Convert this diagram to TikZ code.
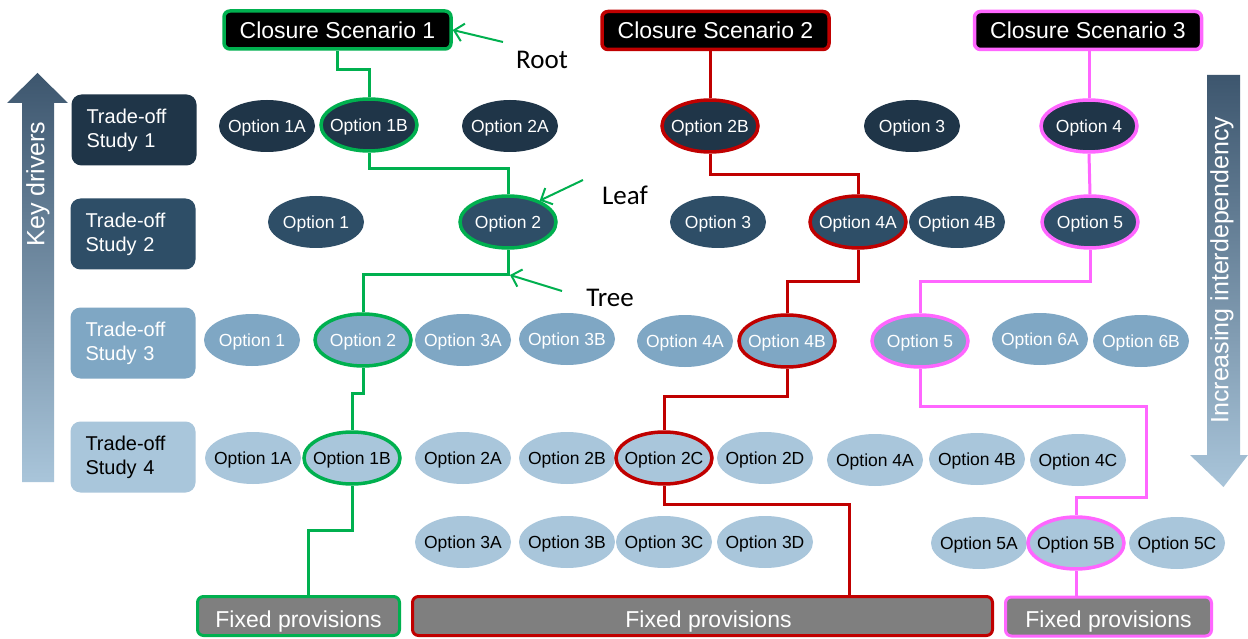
\documentclass[tikz,border=0pt]{standalone}
\usepackage{fontspec}
\setmainfont{Liberation Sans}
\newfontfamily\calibri{Carlito}
\usetikzlibrary{shapes.geometric,arrows.meta}
\definecolor{navyA}{HTML}{1F3548}
\definecolor{navyB}{HTML}{2E4E67}
\definecolor{blueC}{HTML}{7FA7C4}
\definecolor{blueD}{HTML}{A9C6DB}
\definecolor{cgreen}{HTML}{00B04F}
\definecolor{cred}{HTML}{C00000}
\definecolor{cpink}{HTML}{FF66FF}
\definecolor{cgray}{HTML}{7F7F7F}
\definecolor{arrDark}{HTML}{3D566E}
\definecolor{arrLight}{HTML}{A9C5DA}
\begin{document}
\begin{tikzpicture}[x=1pt,y=-1pt,
  opt/.style={ellipse, minimum width=96pt, minimum height=52pt, inner xsep=-10pt, inner ysep=0pt, text depth=0pt, font=\fontsize{17.5}{20}\selectfont},
  oA/.style={opt, fill=navyA, text=white},
  oB/.style={opt, fill=navyB, text=white},
  oC/.style={opt, fill=blueC, text=white},
  oD/.style={opt, fill=blueD, text=black},
  gsel/.style={draw=cgreen, line width=3.5pt},
  rsel/.style={draw=cred, line width=3.5pt},
  psel/.style={draw=cpink, line width=3.5pt},
  study/.style={rounded corners=10pt, minimum width=125pt, minimum height=71pt, text width=95pt, align=left, inner sep=0pt, font=\fontsize{20}{24}\selectfont},
  scen/.style={fill=black, text=white, rounded corners=6pt, line width=3.5pt, minimum width=227pt, minimum height=38pt, inner sep=0pt, font=\fontsize{23}{27}\selectfont},
  fixedbox/.style={fill=cgray, text=white, rounded corners=6pt, line width=3pt, minimum height=39pt, inner sep=0pt, text height=22pt, text depth=0pt, font=\fontsize{23}{27}\selectfont},
  gpath/.style={draw=cgreen, line width=3pt},
  rpath/.style={draw=cred, line width=3pt},
  ppath/.style={draw=cpink, line width=3pt},
  annot/.style={draw=cgreen, line width=2pt, -{Straight Barb[length=9pt,width=18pt]}},
  lab/.style={font=\calibri\fontsize{27}{30}\selectfont, text=black, inner sep=0pt}
]
\useasboundingbox (0,0) rectangle (1248,639);
\fill[white] (0,0) rectangle (1248,639);

% side arrows
\shade[top color=arrDark, bottom color=arrLight]
  (22,482) -- (22,103) -- (7,103) -- (37.5,73) -- (68,103) -- (54,103) -- (54,482) -- cycle;
\node[rotate=90, text=white, font=\fontsize{25}{30}\selectfont] (keyd) at (38,184) {Key drivers};
\shade[top color=arrDark, bottom color=arrLight]
  (1207,75) -- (1240,75) -- (1240,455) -- (1248,455) -- (1223.5,487) -- (1190,455) -- (1207,455) -- cycle;
\node[rotate=90, text=white, font=\fontsize{25}{30}\selectfont] (incr) at (1222,270) {Increasing interdependency};

% study labels
\node[study, fill=navyA, text=white] (s1) at (134,130) {Trade-off\\Study 1};
\node[study, fill=navyB, text=white] (s2) at (133,234) {Trade-off\\Study 2};
\node[study, fill=blueC, text=white] (s3) at (133,343) {Trade-off\\Study 3};
\node[study, fill=blueD, text=black] (s4) at (133,457) {Trade-off\\Study 4};

% scenarios
\node[scen, draw=cgreen] (cs1) at (337.5,30) {Closure Scenario 1};
\node[scen, draw=cred] (cs2) at (715.5,30.5) {Closure Scenario 2};
\node[scen, draw=cpink] (cs3) at (1088,30.5) {Closure Scenario 3};

% row 1
\node[oA] (a1a) at (267,126) {Option 1A};
\node[oA, gsel] (a1b) at (369,125) {Option 1B};
\node[oA] (a2a) at (510,126) {Option 2A};
\node[oA, rsel] (a2b) at (710,126) {Option 2B};
\node[oA] (a3) at (912,126) {Option 3};
\node[oA, psel] (a4) at (1089,126) {Option 4};

% row 2
\node[oB] (b1) at (316,222) {Option 1};
\node[oB, gsel] (b2) at (508,222) {Option 2};
\node[oB] (b3) at (718,222) {Option 3};
\node[oB, rsel] (b4a) at (858,222) {Option 4A};
\node[oB] (b4b) at (957,222) {Option 4B};
\node[oB, psel] (b5) at (1090,222) {Option 5};

% row 3
\node[oC] (c1) at (252,340) {Option 1};
\node[oC, gsel] (c2) at (363,340) {Option 2};
\node[oC] (c3a) at (463,340) {Option 3A};
\node[oC] (c3b) at (567,339) {Option 3B};
\node[oC] (c4a) at (685,341) {Option 4A};
\node[oC, rsel] (c4b) at (787,341) {Option 4B};
\node[oC, psel] (c5) at (920,341) {Option 5};
\node[oC] (c6a) at (1040,339) {Option 6A};
\node[oC] (c6b) at (1141,341) {Option 6B};

% row 4
\node[oD] (d1a) at (253,458) {Option 1A};
\node[oD, gsel] (d1b) at (352,458) {Option 1B};
\node[oD] (d2a) at (463,458) {Option 2A};
\node[oD] (d2b) at (567,458) {Option 2B};
\node[oD, rsel] (d2c) at (664,458) {Option 2C};
\node[oD] (d2d) at (765,458) {Option 2D};
\node[oD] (d4a) at (875,460) {Option 4A};
\node[oD] (d4b) at (977,459) {Option 4B};
\node[oD] (d4c) at (1078,460) {Option 4C};

% row 5
\node[oD] (e3a) at (463,542) {Option 3A};
\node[oD] (e3b) at (567,542) {Option 3B};
\node[oD] (e3c) at (664,542) {Option 3C};
\node[oD] (e3d) at (765,542) {Option 3D};
\node[oD] (e5a) at (979,543) {Option 5A};
\node[oD, psel] (e5b) at (1076,543) {Option 5B};
\node[oD] (e5c) at (1177,543) {Option 5C};

% fixed provisions
\node[fixedbox, draw=cgreen, minimum width=202pt] (fp1) at (298.5,616) {Fixed provisions};
\node[fixedbox, draw=cred, minimum width=580pt] (fp2) at (702.5,616) {\hspace{12pt}Fixed provisions};
\node[fixedbox, draw=cpink, minimum width=206pt] (fp3) at (1108.5,616.5) {Fixed provisions};

% green tree
\draw[gpath] (cs1.south) -- ++(0,19) -| (a1b.north);
\draw[gpath] (a1b.south) -- ++(0,16) -| (b2.north);
\draw[gpath] (b2.south) -- ++(0,25) -| (c2.north);
\draw[gpath] (c2.south) -- ++(0,26) -| (d1b.north);
\draw[gpath] (d1b.south) -- ++(0,45) -| (fp1.north -| 308,0);

% red tree
\draw[rpath] (a2b.north |- cs2.south) -- (a2b.north);
\draw[rpath] (a2b.south) -- ++(0,21) -| (b4a.north);
\draw[rpath] (b4a.south) -- ++(0,32) -| (c4b.north);
\draw[rpath] (c4b.south) -- ++(0,28) -| (d2c.north);
\draw[rpath] (d2c.south) -- ++(0,19) -| (fp2.north -| 849,0);

% pink tree
\draw[ppath] (a4.north |- cs3.south) -- (a4.north);
\draw[ppath] (a4.south) -- (b5.north);
\draw[ppath] (b5.south) -- ++(0,32) -| (c5.north);
\draw[ppath] (c5.south) |- (1146,406) -- (1146,497) -| (e5b.north);
\draw[ppath] (e5b.south) -- (e5b.south |- fp3.north);

% annotations
\node[lab] (root) at (542,60) {Root};
\node[lab] (leaf) at (625,195) {Leaf};
\node[lab] (tree) at (610,298) {Tree};
\coordinate (rootT) at (503,42);
\coordinate (leafT) at (583,180);
\coordinate (treeT) at (562,291);
\coordinate (treeH) at (510,275);
\draw[annot] (rootT) -- (cs1.east);
\draw[annot] (leafT) -- (b2.34);
\draw[annot] (treeT) -- (treeH);
\end{tikzpicture}
\end{document}
